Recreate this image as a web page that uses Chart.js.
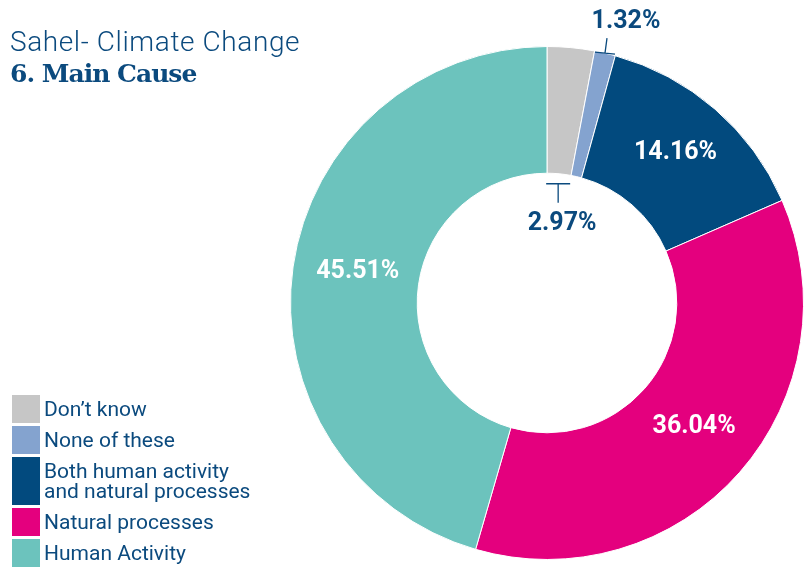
<!DOCTYPE html>
<html>
<head>
<meta charset="utf-8">
<script src="https://cdn.jsdelivr.net/npm/chart.js@4"></script>
<style>
  html, body { margin: 0; padding: 0; background: #fff; }
  #wrap { position: relative; width: 810px; height: 570px; overflow: hidden; }
  #chart { position: absolute; left: 0; top: 0; }
  .title { position: absolute; left: 10px; color: #0b4a7e; white-space: nowrap; }
  .t1 { top: 25px; font: 300 28px Roboto, sans-serif; letter-spacing: 0.6px; }
  .t2 { top: 59px; font: bold 25px "DejaVu Serif", serif; letter-spacing: -1px; }
  #legend { position: absolute; left: 12px; top: 395px; }
  .item { display: flex; align-items: stretch; margin-bottom: 3px; }
  .box { width: 28px; flex: none; }
  .txt { margin-left: 4px; font: 21px Roboto, sans-serif; color: #0b4a7e; line-height: 20px; padding: 4px 0 4px; white-space: pre-line; }
</style>
</head>
<body>
<div id="wrap">
  <canvas id="chart" width="810" height="570"></canvas>
  <div class="title t1">Sahel- Climate Change</div>
  <div class="title t2">6. Main Cause</div>
  <div id="legend"></div>
</div>
<script>
const labels = ["Don\u2019t know", "None of these", "Both human activity\nand natural processes", "Natural processes", "Human Activity"]
const values = [2.97, 1.32, 14.16, 36.04, 45.51]
const colors = ["#c6c6c6", "#84a3cf", "#024a7e", "#e4007e", "#6cc3bd"]
// where each value label goes: inside the slice, into the hole, or outside the ring
const placement = ["hole", "outside", "slice", "slice", "slice"]

const legend = document.getElementById("legend")
labels.forEach((l, i) => {
  const item = document.createElement("div")
  item.className = "item"
  item.innerHTML = `<div class="box" style="background:${colors[i]}"></div><div class="txt"></div>`
  item.querySelector(".txt").textContent = l
  legend.appendChild(item)
})

const valueLabels = {
  id: "valueLabels",
  afterDatasetsDraw(chart) {
    const ctx = chart.ctx
    const meta = chart.getDatasetMeta(0)
    ctx.save()
    ctx.font = "bold 25px Roboto, sans-serif"
    ctx.textAlign = "center"
    ctx.textBaseline = "middle"
    meta.data.forEach((arc, i) => {
      const p = arc.getProps(["x", "y", "startAngle", "endAngle", "innerRadius", "outerRadius"], true)
      const mid = (p.startAngle + p.endAngle) / 2
      const text = values[i].toFixed(2) + "%"
      const cos = Math.cos(mid), sin = Math.sin(mid)
      if (placement[i] === "slice") {
        const r = (p.innerRadius + p.outerRadius) / 2
        ctx.fillStyle = "#ffffff"
        ctx.fillText(text, p.x + r * cos + 2, p.y + r * sin - 4)
      } else {
        ctx.strokeStyle = "#0b4a7e"
        ctx.fillStyle = "#0b4a7e"
        ctx.lineWidth = 1.3
        if (placement[i] === "hole") {
          const r = p.innerRadius - 10
          const bx = p.x + r * cos, by = p.y + r * sin
          ctx.beginPath()
          ctx.moveTo(bx - 12, by); ctx.lineTo(bx + 12, by)
          ctx.moveTo(bx, by); ctx.lineTo(bx, by + 19)
          ctx.stroke()
          ctx.fillText(text, bx + 4, by + 40)
        } else {
          const r = p.outerRadius
          const bx = p.x + r * cos, by = p.y + r * sin
          ctx.beginPath()
          ctx.moveTo(bx - 10, by - 1); ctx.lineTo(bx + 10, by + 1)
          ctx.moveTo(bx, by); ctx.lineTo(bx + 2, by - 15)
          ctx.stroke()
          ctx.fillText(text, bx + 21, by - 31)
        }
      }
    })
    ctx.restore()
  }
}

new Chart(document.getElementById("chart"), {
  type: "doughnut",
  data: {
    labels: labels,
    datasets: [{
      data: values,
      backgroundColor: colors,
      borderColor: "#ffffff",
      borderWidth: 1
    }]
  },
  options: {
    responsive: false,
    animation: false,
    cutout: "50.6%",
    layout: { padding: { left: 290, right: 6, top: 46, bottom: 10 } },
    plugins: {
      legend: { display: false },
      tooltip: { enabled: false }
    }
  },
  plugins: [valueLabels]
})
</script>
</body>
</html>
